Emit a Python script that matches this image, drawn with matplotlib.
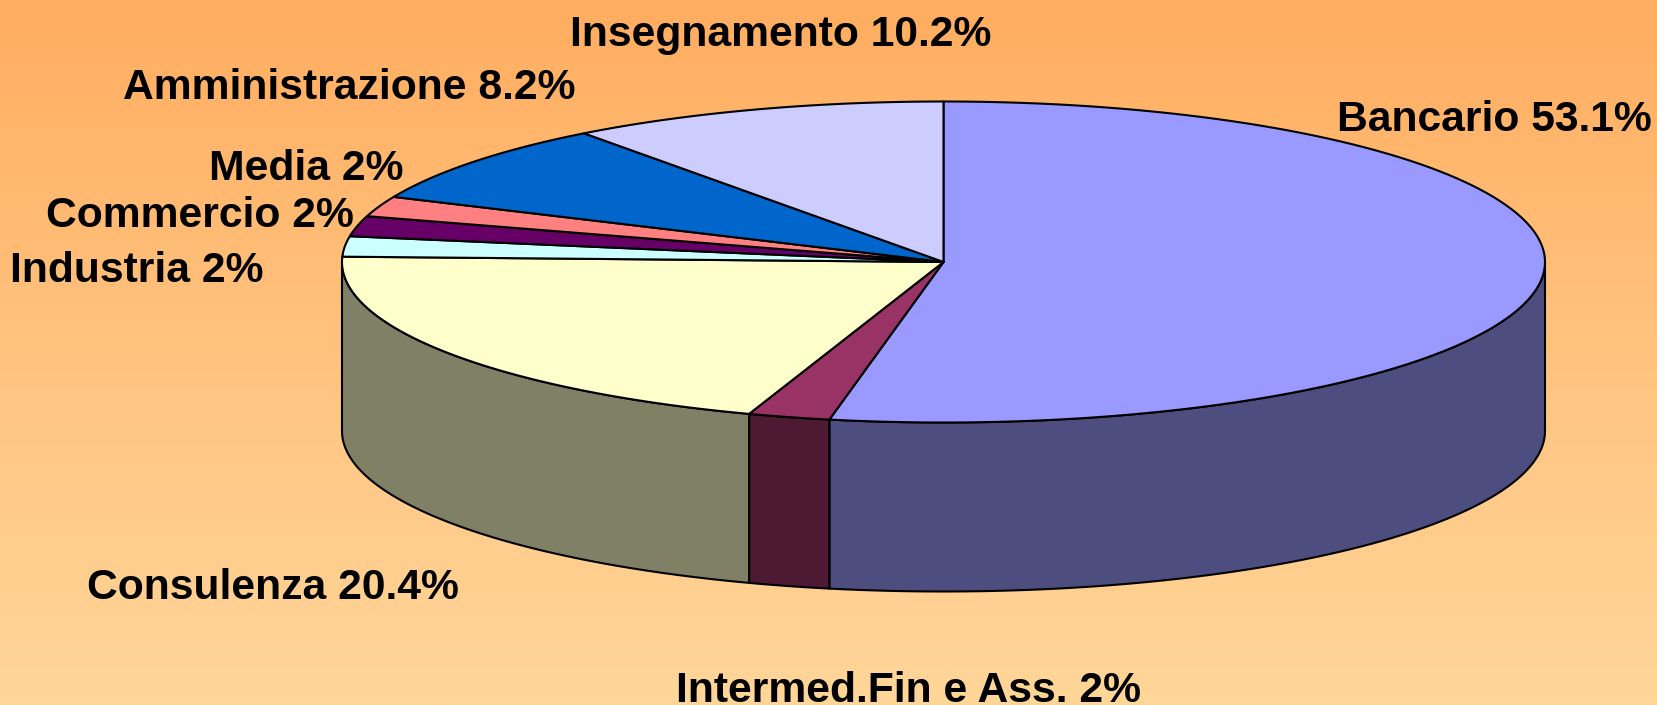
import numpy as np
import matplotlib
matplotlib.use("Agg")
import matplotlib.pyplot as plt
from matplotlib.patches import Polygon
from matplotlib.colors import LinearSegmentedColormap

categories = ["Bancario", "Intermed.Fin e Ass.", "Consulenza", "Industria",
              "Commercio", "Media", "Amministrazione", "Insegnamento"]
values = [53.06, 2.2, 20.3, 2.04, 2.04, 2.04, 8.16, 10.2]
value_labels = ["53.1%", "2%", "20.4%", "2%", "2%", "2%", "8.2%", "10.2%"]
top_colors = ["#9999FF", "#993366", "#FFFFCC", "#CCFFFF", "#660066", "#FF8080", "#0066CC", "#CCCCFF"]
side_colors = ["#4D4D80", "#4D1933", "#808066", "#668080", "#330033", "#804040", "#003366", "#666680"]
label_pos = [(1494, 120), (909, 691), (273, 588), (137, 271), (200, 216), (306.5, 169), (349.5, 88), (780.5, 35)]

W, H = 1658, 705
CX, CY, RX, RY, DEPTH = 943.5, 262, 601.5, 160.5, 169

fig = plt.figure(figsize=(W / 100, H / 100), dpi=100)
ax = fig.add_axes([0, 0, 1, 1])
ax.set_xlim(0, W)
ax.set_ylim(H, 0)
ax.axis("off")

bg = LinearSegmentedColormap.from_list("bg", ["#FFAD60", "#FFC37F", "#FFD699"])
ax.imshow(np.linspace(0, 1, 256).reshape(-1, 1), cmap=bg, extent=[0, W, H, 0], aspect="auto", zorder=0)

edges = np.cumsum([0] + values) / sum(values) * 2 * np.pi


def ell(t, dy=0.0):
    return np.column_stack([CX + RX * np.sin(t), CY - RY * np.cos(t) + dy])


# side walls (visible lower half only: pi/2 .. 3pi/2)
for i in range(len(values)):
    a, b = max(edges[i], np.pi / 2), min(edges[i + 1], 3 * np.pi / 2)
    if b > a:
        t = np.linspace(a, b, 80)
        pts = np.vstack([ell(t), ell(t[::-1], DEPTH)])
        ax.add_patch(Polygon(pts, closed=True, fc=side_colors[i], ec="black", lw=1.5, zorder=2))

# top faces
for i in range(len(values)):
    t = np.linspace(edges[i], edges[i + 1], 200)
    pts = np.vstack([[CX, CY], ell(t)])
    ax.add_patch(Polygon(pts, closed=True, fc=top_colors[i], ec="black", lw=1.5, zorder=3, joinstyle="round"))

for c, v, (x, y) in zip(categories, value_labels, label_pos):
    ax.text(x, y, f"{c} {v}", ha="center", va="center", fontsize=30.7, fontweight="bold",
            family="Liberation Sans", color="black", zorder=5)

fig.savefig("out.png", dpi=100)
